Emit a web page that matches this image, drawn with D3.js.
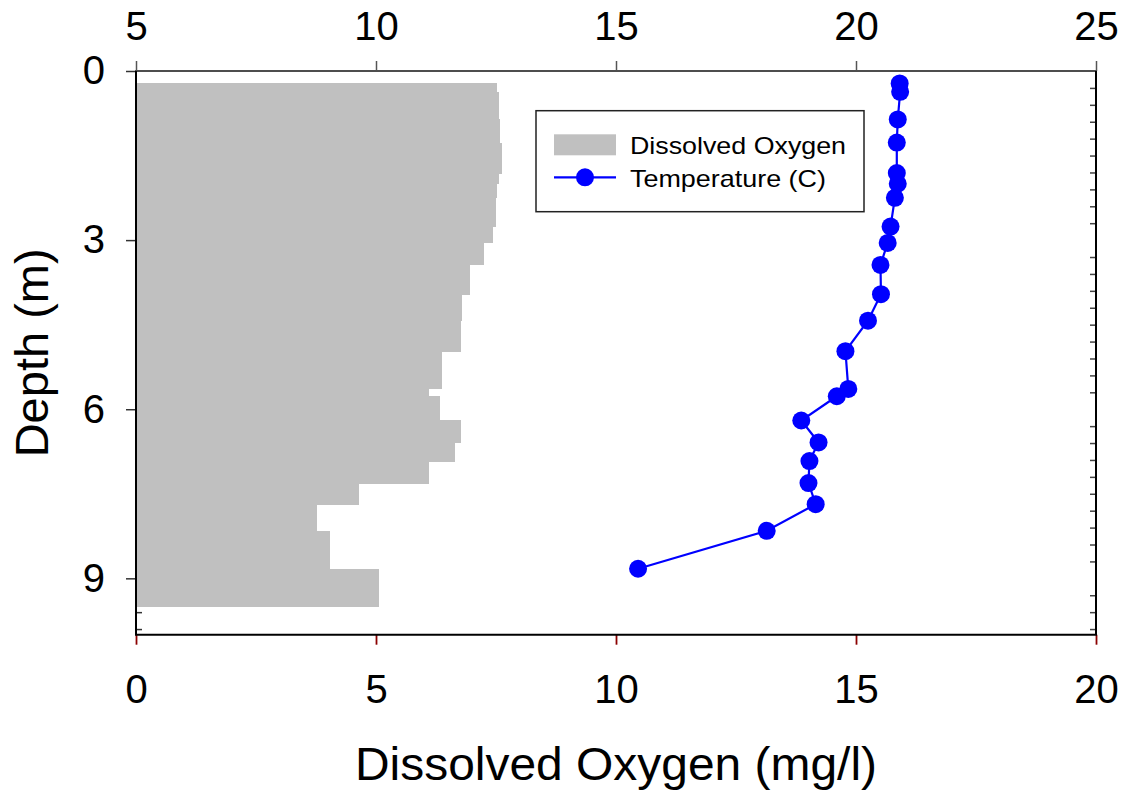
<!DOCTYPE html>
<html>
<head>
<meta charset="utf-8">
<script src="https://cdn.jsdelivr.net/npm/d3@7"></script>
<style>
  html, body { margin: 0; padding: 0; background: #fff; }
  svg { display: block; font-family: "Liberation Sans", Arial, sans-serif; }
</style>
</head>
<body>
<svg id="chart" width="1124" height="793"></svg>
<script>
// ---- data ----
const depth = [0.22, 0.37, 0.86, 1.27, 1.81, 2.00, 2.25, 2.76, 3.05, 3.44, 3.96,
               4.43, 4.97, 5.64, 5.77, 6.20, 6.59, 6.92, 7.31, 7.685, 8.157, 8.83];
const temperature = [20.91, 20.92, 20.87, 20.85, 20.85, 20.87, 20.81, 20.72, 20.66, 20.51, 20.52,
                     20.25, 19.78, 19.84, 19.60, 18.86, 19.22, 19.03, 19.01, 19.16, 18.14, 15.46];
const dissolvedOxygen = [7.53, 7.56, 7.59, 7.62, 7.57, 7.53, 7.51, 7.44, 7.24, 6.96, 6.80,
                         6.77, 6.375, 6.11, 6.33, 6.77, 6.65, 6.10, 4.65, 3.78, 4.04, 5.06];
const doBottomDepth = 9.50;
const depthTicks = [0, 3, 6, 9];
const doTicks = [0, 5, 10, 15, 20];
const tempTicks = [5, 10, 15, 20, 25];
const legendLabels = ["Dissolved Oxygen", "Temperature (C)"];

// ---- layout ----
const W = 1124, H = 793;
const m = { left: 136, top: 71, right: 28, bottom: 158.3 };
const pw = W - m.left - m.right, ph = H - m.top - m.bottom;
const svg = d3.select("#chart");
const g = svg.append("g").attr("transform", `translate(${m.left},${m.top})`);

const y = d3.scaleLinear().domain([0, 10]).range([0, ph]);
const xDO = d3.scaleLinear().domain([0, 20]).range([0, pw]);
const xT = d3.scaleLinear().domain([5, 25]).range([0, pw]);

const fontTick = 40, fontTitle = 47;

// minor depth ticks every 0.3 m (not at majors)
const minorDepth = d3.range(1, 34).filter(i => i % 10 !== 0).map(i => +(i * 0.3).toFixed(2));

// left inner minor ticks (mostly hidden by bars)
g.append("g").call(d3.axisRight(y).tickValues(minorDepth).tickSize(6).tickSizeOuter(0).tickFormat(""))
  .call(a => a.select(".domain").remove())
  .call(a => a.selectAll("line").attr("stroke", "#333").attr("stroke-width", 1.5));

// right inner minor ticks
g.append("g").attr("transform", `translate(${pw},0)`)
  .call(d3.axisLeft(y).tickValues(minorDepth).tickSize(6).tickSizeOuter(0).tickFormat(""))
  .call(a => a.select(".domain").remove())
  .call(a => a.selectAll("line").attr("stroke", "#444").attr("stroke-width", 1.5));

// ---- bars: dissolved oxygen, spanning each depth to the next ----
const barData = dissolvedOxygen.map((v, i) => ({
  v, d0: depth[i], d1: i < depth.length - 1 ? depth[i + 1] : doBottomDepth
}));
g.append("g").selectAll("rect").data(barData).join("rect")
  .attr("x", xDO(0))
  .attr("y", d => y(d.d0))
  .attr("width", d => xDO(d.v) - xDO(0))
  .attr("height", d => y(d.d1) - y(d.d0) + 0.5)
  .attr("fill", "#c0c0c0")
  .attr("shape-rendering", "crispEdges");

// ---- axes ----
const styleText = a => a.selectAll("text").attr("font-size", fontTick).attr("fill", "#000")
  .attr("font-family", "Liberation Sans, Arial, sans-serif");
// left
g.append("g")
  .call(d3.axisLeft(y).tickValues(depthTicks).tickSize(10).tickSizeOuter(0).tickPadding(21))
  .call(a => a.select(".domain").remove())
  .call(a => a.selectAll("line").attr("stroke", "#333").attr("stroke-width", 1.5))
  .call(styleText);
// bottom
g.append("g").attr("transform", `translate(0,${ph})`)
  .call(d3.axisBottom(xDO).tickValues(doTicks).tickSize(10).tickSizeOuter(0).tickPadding(30))
  .call(a => a.select(".domain").remove())
  .call(a => a.selectAll("line").attr("stroke", "#8b0000").attr("stroke-width", 1.8))
  .call(styleText);
// top
g.append("g")
  .call(d3.axisTop(xT).tickValues(tempTicks).tickSize(10).tickSizeOuter(0).tickPadding(21))
  .call(a => a.select(".domain").remove())
  .call(a => a.selectAll("line").attr("stroke", "#555").attr("stroke-width", 1.5))
  .call(styleText);

// frame
g.append("line").attr("x1", -1).attr("x2", pw + 1).attr("y1", 0).attr("y2", 0)
  .attr("stroke", "#4d4d4d").attr("stroke-width", 2);
g.append("line").attr("x1", 0).attr("x2", 0).attr("y1", 0).attr("y2", ph)
  .attr("stroke", "#000").attr("stroke-width", 2);
g.append("line").attr("x1", pw).attr("x2", pw).attr("y1", 0).attr("y2", ph)
  .attr("stroke", "#000").attr("stroke-width", 2);
g.append("line").attr("x1", -1).attr("x2", pw + 1).attr("y1", ph).attr("y2", ph)
  .attr("stroke", "#000").attr("stroke-width", 2);

// ---- temperature line + markers ----
const tData = temperature.map((t, i) => ({ t, d: depth[i] }));
g.append("path").datum(tData)
  .attr("fill", "none").attr("stroke", "#0000ff").attr("stroke-width", 2.2)
  .attr("d", d3.line().x(d => xT(d.t)).y(d => y(d.d)));
g.append("g").selectAll("circle").data(tData).join("circle")
  .attr("cx", d => xT(d.t)).attr("cy", d => y(d.d)).attr("r", 9)
  .attr("fill", "#0000ff");

// ---- axis titles ----
svg.append("text")
  .attr("x", m.left + pw / 2).attr("y", 780)
  .attr("text-anchor", "middle").attr("font-size", fontTitle).attr("fill", "#000")
  .attr("textLength", 522).attr("lengthAdjust", "spacingAndGlyphs")
  .text("Dissolved Oxygen (mg/l)");
svg.append("text")
  .attr("transform", `translate(48,${m.top + ph / 2}) rotate(-90)`)
  .attr("text-anchor", "middle").attr("font-size", fontTitle).attr("fill", "#000")
  .text("Depth (m)");

// ---- legend ----
const lg = svg.append("g");
lg.append("rect").attr("x", 536).attr("y", 110.7).attr("width", 328).attr("height", 101)
  .attr("fill", "#fff").attr("stroke", "#222").attr("stroke-width", 1.5);
lg.append("rect").attr("x", 554).attr("y", 134.3).attr("width", 62).attr("height", 21)
  .attr("fill", "#c0c0c0");
lg.append("line").attr("x1", 554).attr("x2", 616).attr("y1", 177.3).attr("y2", 177.3)
  .attr("stroke", "#0000ff").attr("stroke-width", 2.2);
lg.append("circle").attr("cx", 585).attr("cy", 177.3).attr("r", 9).attr("fill", "#0000ff");
const legendWidths = [216, 196];
lg.selectAll("text.lab").data(legendLabels).join("text")
  .attr("class", "lab")
  .attr("x", 630).attr("y", (d, i) => 153.5 + i * 33.3)
  .attr("font-size", 24).attr("fill", "#000")
  .attr("textLength", (d, i) => legendWidths[i]).attr("lengthAdjust", "spacingAndGlyphs")
  .text(d => d);
</script>
</body>
</html>
